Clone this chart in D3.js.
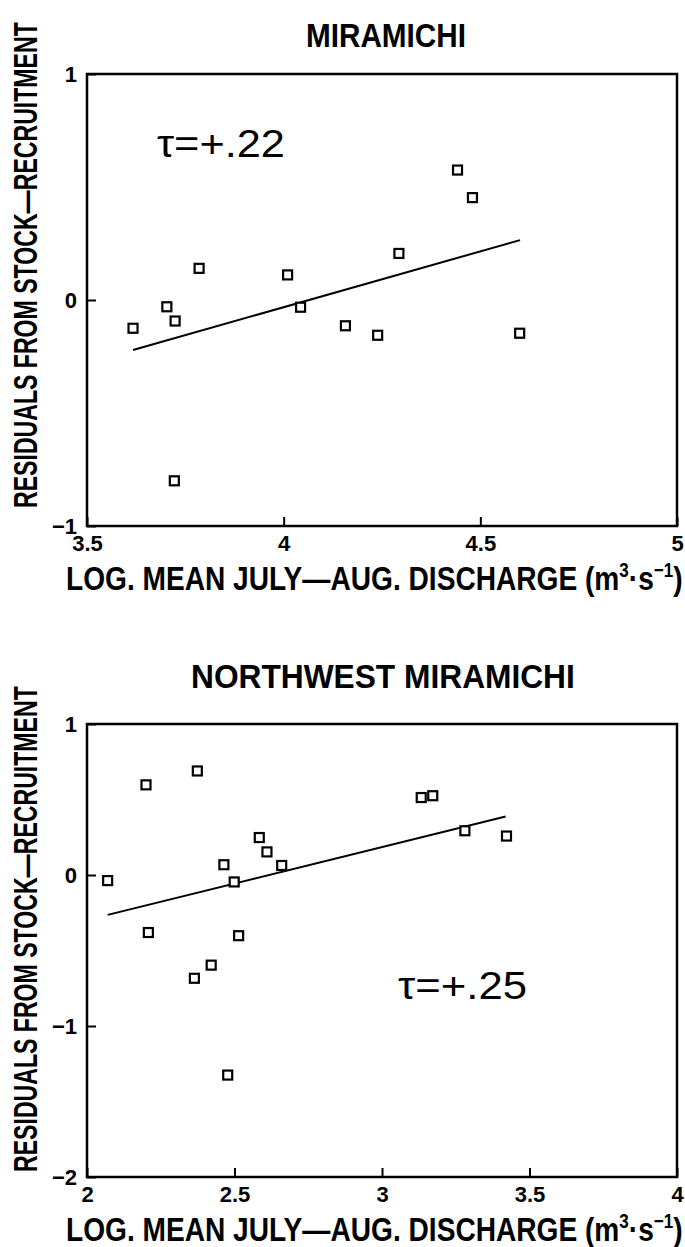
<!DOCTYPE html>
<html>
<head>
<meta charset="utf-8">
<script src="https://cdn.jsdelivr.net/npm/d3@7"></script>
<style>
body { margin: 0; background: #fff; }
svg { display: block; }
</style>
</head>
<body>
<svg width="685" height="1247"></svg>
<script>
// Miramichi: residuals vs log discharge
const miraX = [3.617, 3.703, 3.724, 3.722, 3.785, 4.010, 4.043, 4.157, 4.239, 4.293, 4.442, 4.480, 4.600];
const miraY = [-0.125, -0.030, -0.093, -0.800, 0.140, 0.111, -0.032, -0.114, -0.156, 0.206, 0.575, 0.453, -0.147];
const miraFit = [[3.617, -0.221], [4.601, 0.265]];
const miraXTicks = [3.5, 4, 4.5, 5];
const miraYTicks = [-1, 0, 1];

// Northwest Miramichi
const nwX = [2.070, 2.200, 2.208, 2.374, 2.364, 2.421, 2.464, 2.499, 2.477, 2.514, 2.584, 2.610, 2.660, 3.133, 3.172, 3.281, 3.422];
const nwY = [-0.037, 0.597, -0.381, 0.689, -0.684, -0.597, 0.068, -0.046, -1.325, -0.402, 0.248, 0.153, 0.063, 0.513, 0.525, 0.293, 0.258];
const nwFit = [[2.070, -0.264], [3.419, 0.388]];
const nwXTicks = [2, 2.5, 3, 3.5, 4];
const nwYTicks = [-2, -1, 0, 1];

const xTitle = "LOG. MEAN JULY\u2014AUG. DISCHARGE (m";
const yTitle = "RESIDUALS FROM STOCK\u2014RECRUITMENT";

const svg = d3.select("svg");
const left = 87, right = 677;
const fmt = d3.format("~g");
const boldFont = "'Liberation Sans', Arial, sans-serif";

// squeeze a text element horizontally so it spans a given width
function fit(sel, x0, y, width, rotate) {
    const w = sel.node().getBBox().width;
    const k = width / w;
    sel.attr("transform", rotate
        ? `translate(${x0},${y}) rotate(-90) scale(${k},1)`
        : `translate(${x0},${y}) scale(${k},1)`);
}

const panels = [
    { title: "MIRAMICHI", tau: "\u03c4=+.22", xs: miraX, ys: miraY, fit: miraFit,
      xTicks: miraXTicks, yTicks: miraYTicks, top: 74, bottom: 526,
      titleX: [306, 466], titleY: 47, tauX: [157, 285], tauY: 157, yLab: [508, 22] },
    { title: "NORTHWEST MIRAMICHI", tau: "\u03c4=+.25", xs: nwX, ys: nwY, fit: nwFit,
      xTicks: nwXTicks, yTicks: nwYTicks, top: 724, bottom: 1177,
      titleX: [191, 575], titleY: 688, tauX: [398, 527], tauY: 999, yLab: [1172, 686] }
];

panels.forEach(p => {
    const g = svg.append("g");
    const x = d3.scaleLinear()
        .domain(d3.extent(p.xTicks))
        .range([left, right]);
    const y = d3.scaleLinear()
        .domain(d3.extent(p.yTicks))
        .range([p.bottom, p.top]);

    // axes, ticks pointing inward
    const xAxis = g.append("g")
        .attr("transform", `translate(0,${p.bottom})`)
        .call(d3.axisBottom(x).tickValues(p.xTicks).tickFormat(fmt)
            .tickSizeInner(-9).tickSizeOuter(0).tickPadding(9));
    const yAxis = g.append("g")
        .attr("transform", `translate(${left},0)`)
        .call(d3.axisLeft(y).tickValues(p.yTicks).tickFormat(fmt)
            .tickSizeInner(-9).tickSizeOuter(0).tickPadding(10));
    [xAxis, yAxis].forEach(a => {
        a.select(".domain").remove();
        a.selectAll("line").attr("stroke", "#000").attr("stroke-width", 2);
        a.selectAll("text")
            .attr("fill", "#000")
            .attr("font-family", boldFont)
            .attr("font-weight", "bold")
            .attr("font-size", 22);
    });

    // frame
    g.append("rect")
        .attr("x", left).attr("y", p.top)
        .attr("width", right - left).attr("height", p.bottom - p.top)
        .attr("fill", "none").attr("stroke", "#000").attr("stroke-width", 2.5);

    // fitted line
    g.append("line")
        .attr("x1", x(p.fit[0][0])).attr("y1", y(p.fit[0][1]))
        .attr("x2", x(p.fit[1][0])).attr("y2", y(p.fit[1][1]))
        .attr("stroke", "#000").attr("stroke-width", 2);

    // points
    const pts = p.xs.map((v, i) => ({ x: v, y: p.ys[i] }));
    g.selectAll("rect.pt")
        .data(pts)
        .enter()
        .append("rect")
        .attr("class", "pt")
        .attr("x", d => x(d.x) - 4.5)
        .attr("y", d => y(d.y) - 4.5)
        .attr("width", 9).attr("height", 9)
        .attr("fill", "#fff").attr("stroke", "#000").attr("stroke-width", 2.2);

    // panel title
    const t = g.append("text")
        .text(p.title)
        .attr("font-family", boldFont)
        .attr("font-weight", "bold")
        .attr("font-size", 34);
    fit(t, p.titleX[0], p.titleY, p.titleX[1] - p.titleX[0]);

    // tau label
    const tau = g.append("text")
        .text(p.tau)
        .attr("font-family", "'Liberation Sans', Arial, sans-serif")
        .attr("font-size", 38);
    fit(tau, p.tauX[0], p.tauY, p.tauX[1] - p.tauX[0]);

    // x axis title with superscripts
    const xt = g.append("text")
        .attr("font-family", boldFont)
        .attr("font-weight", "bold")
        .attr("font-size", 33);
    xt.append("tspan").text(xTitle);
    xt.append("tspan").text("3").attr("font-size", 20).attr("dy", -13);
    xt.append("tspan").text("\u00b7s").attr("dy", 13);
    xt.append("tspan").text("\u22121").attr("font-size", 20).attr("dy", -13);
    xt.append("tspan").text(")").attr("dy", 13);
    fit(xt, 66, p.bottom + 64, 617);

    // y axis title, rotated
    const yt = g.append("text")
        .text(yTitle)
        .attr("font-family", boldFont)
        .attr("font-weight", "bold")
        .attr("font-size", 33);
    fit(yt, 37, p.yLab[0], p.yLab[0] - p.yLab[1], true);
});
</script>
</body>
</html>
